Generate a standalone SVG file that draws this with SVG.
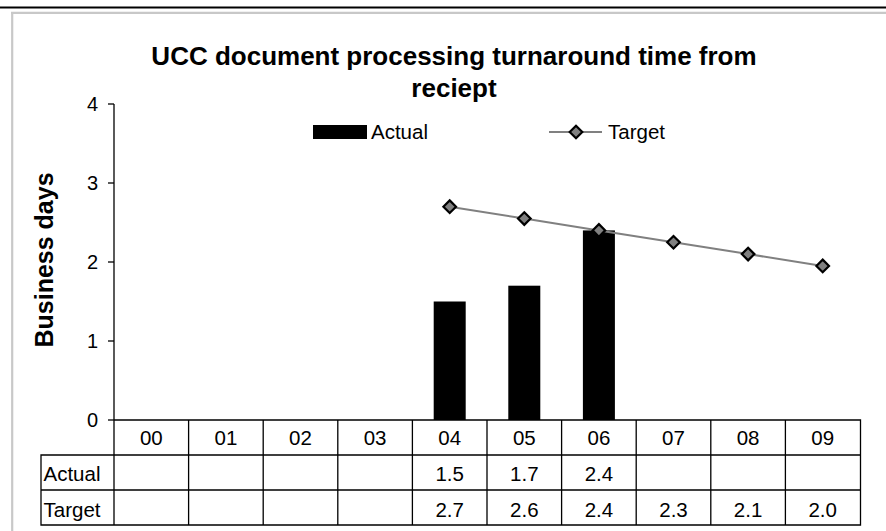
<svg xmlns="http://www.w3.org/2000/svg" width="886" height="531" viewBox="0 0 886 531">
<style>
text{font-family:"Liberation Sans",Arial,sans-serif;fill:#000}
.title{font-size:26px;font-weight:bold;text-anchor:middle}
.ytitle{font-size:25px;font-weight:bold;text-anchor:middle}
.tick{font-size:20px;text-anchor:end}
.lg{font-size:20.5px}
.cell{font-size:20.5px;text-anchor:middle}
.rowlab{font-size:20.5px}
.grid{stroke:#000;stroke-width:1.3;fill:none}
.bar{fill:#000}
.diamond{fill:#808080;stroke:#000;stroke-width:2.2}
</style>
<defs>
<path id="dm" d="M0,-6.3 L6.3,0 L0,6.3 L-6.3,0 Z" class="diamond"/>
</defs>
<rect width="886" height="531" fill="#fff"/>
<g id="frame">
<line x1="0" y1="7.5" x2="886" y2="7.5" stroke="#000" stroke-width="2.2"/>
<line x1="11" y1="12.8" x2="886" y2="12.8" stroke="#c8c8c8" stroke-width="2.2"/>
<line x1="12.2" y1="12" x2="12.2" y2="531" stroke="#c8c8c8" stroke-width="2.2"/>
</g>
<g id="title">
<text class="title" x="454" y="65">UCC document processing turnaround time from</text>
<text class="title" x="454" y="97">reciept</text>
</g>
<g id="y-axis-title">
<text class="ytitle" transform="translate(53,260) rotate(-90)">Business days</text>
</g>
<g id="legend">
<rect x="313" y="125" width="54" height="14" class="bar"/>
<text class="lg" x="371" y="138.5">Actual</text>
<line x1="549" y1="132" x2="602" y2="132" stroke="#808080" stroke-width="2"/>
<use href="#dm" x="576" y="132"/>
<text class="lg" x="608" y="138.5">Target</text>
</g>
<g id="y-axis">
<line class="grid" x1="114" y1="104" x2="114" y2="420"/>
<line class="grid" x1="108" y1="104" x2="114" y2="104"/>
<line class="grid" x1="108" y1="183" x2="114" y2="183"/>
<line class="grid" x1="108" y1="262" x2="114" y2="262"/>
<line class="grid" x1="108" y1="341" x2="114" y2="341"/>
<line class="grid" x1="108" y1="420" x2="114" y2="420"/>
<text class="tick" x="98" y="111">4</text>
<text class="tick" x="98" y="190">3</text>
<text class="tick" x="98" y="269">2</text>
<text class="tick" x="98" y="348">1</text>
<text class="tick" x="98" y="427">0</text>
</g>
<g id="bars">
<rect class="bar" x="433.7" y="301.5" width="32" height="118.5"/>
<rect class="bar" x="508.3" y="285.7" width="32" height="134.3"/>
<rect class="bar" x="582.9" y="230.4" width="32" height="189.6"/>
</g>
<g id="connectors">
<polyline points="449.7,206.7 524.3,218.55 598.9,230.4 673.5,242.25 748.1,254.1 822.7,265.95" fill="none" stroke="#808080" stroke-width="2"/>
</g>
<g id="target-markers">
<use href="#dm" x="449.7" y="206.7"/>
<use href="#dm" x="524.3" y="218.55"/>
<use href="#dm" x="598.9" y="230.4"/>
<use href="#dm" x="673.5" y="242.25"/>
<use href="#dm" x="748.1" y="254.1"/>
<use href="#dm" x="822.7" y="265.95"/>
</g>
<g id="data-table">
<path class="grid" d="M114,420H860.5V525H41V455H860.5M41,490H860.5M114,420V525M188.6,420V525M263.2,420V525M337.8,420V525M412.4,420V525M487,420V525M561.6,420V525M636.2,420V525M710.8,420V525M785.4,420V525"/>
<text class="cell" x="151.3" y="444.5">00</text>
<text class="cell" x="225.9" y="444.5">01</text>
<text class="cell" x="300.5" y="444.5">02</text>
<text class="cell" x="375.1" y="444.5">03</text>
<text class="cell" x="449.7" y="444.5">04</text>
<text class="cell" x="524.3" y="444.5">05</text>
<text class="cell" x="598.9" y="444.5">06</text>
<text class="cell" x="673.5" y="444.5">07</text>
<text class="cell" x="748.1" y="444.5">08</text>
<text class="cell" x="822.7" y="444.5">09</text>
<text class="rowlab" x="43.5" y="481">Actual</text>
<text class="cell" x="449.7" y="481">1.5</text>
<text class="cell" x="524.3" y="481">1.7</text>
<text class="cell" x="598.9" y="481">2.4</text>
<text class="rowlab" x="43.5" y="516.5">Target</text>
<text class="cell" x="449.7" y="516.5">2.7</text>
<text class="cell" x="524.3" y="516.5">2.6</text>
<text class="cell" x="598.9" y="516.5">2.4</text>
<text class="cell" x="673.5" y="516.5">2.3</text>
<text class="cell" x="748.1" y="516.5">2.1</text>
<text class="cell" x="822.7" y="516.5">2.0</text>
</g>
</svg>
